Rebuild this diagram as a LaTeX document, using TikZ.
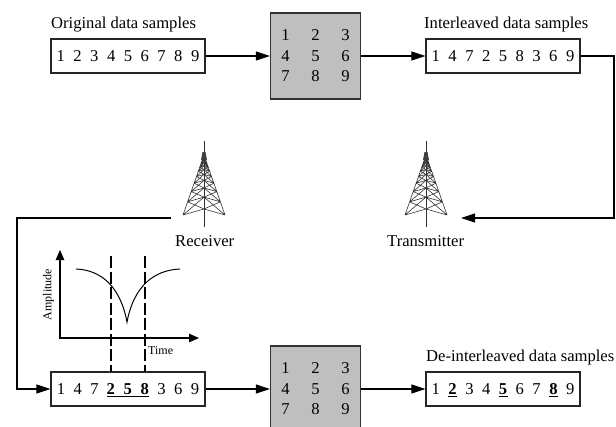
\documentclass[tikz,border=0pt]{standalone}
\usepackage{fontspec}
\setmainfont{Liberation Serif}
\usetikzlibrary{arrows.meta}
\newcommand{\dg}[1]{\makebox[16.8pt]{#1}}
\newcommand{\dgu}[1]{\underline{\smash{\makebox[9pt]{\bfseries #1}}}}
\newcommand{\mc}[1]{\makebox[30pt]{#1}}
\newcommand{\matrixtext}{\mc{1}\mc{2}\mc{3}\\\mc{4}\mc{5}\mc{6}\\\mc{7}\mc{8}\mc{9}}
\tikzset{
  lab/.style={inner sep=0pt,anchor=base west,font=\fontsize{16.6}{20}\selectfont},
  databox/.style={draw=black!85,line width=1.2pt,fill=white,minimum width=154pt,minimum height=34pt,inner sep=0pt,text height=11.2pt,text depth=0pt,font=\fontsize{16.6}{20}\selectfont},
  graybox/.style={draw=black!80,line width=1.2pt,fill=black!25,minimum width=85pt,minimum height=86pt,inner sep=0pt,align=center,font=\fontsize{16.6}{20.5}\selectfont},
  conn/.style={line width=1.1pt,-{Triangle[length=14pt,width=9pt]}},
  small/.style={inner sep=0pt,font=\fontsize{12}{14}\selectfont},
  tower/.pic={
    \draw[line width=.6pt,black!80] (0,141) -- (0,227);
    \fill[black!70] (-1.3,152) rectangle (1.3,160);
    \foreach \t/\u in {1/.78,.78/.61,.61/.47,.47/.36,.36/.27,.27/.2,.2/.15,.15/.11,.11/.08,.08/.05}{
      \pgfmathsetmacro{\xa}{21*\t}\pgfmathsetmacro{\ya}{155+60*\t}\pgfmathsetmacro{\yc}{155+54*\t}
      \pgfmathsetmacro{\xb}{21*\u}\pgfmathsetmacro{\yb}{155+60*\u}\pgfmathsetmacro{\yd}{155+54*\u}
      \draw[line width=.6pt,black!80]
        (-\xa,\ya) -- (0,\yc) -- (\xa,\ya)
        (-\xa,\ya) -- (-\xb,\yb) (\xa,\ya) -- (\xb,\yb)
        (-\xa,\ya) -- (0,\yd) (\xa,\ya) -- (0,\yd)
        (0,\yc) -- (-\xb,\yb) (0,\yc) -- (\xb,\yb);
    }
    \fill[black!75] (-3,160) -- (3,160) -- (1.5,152) -- (-1.5,152) -- cycle;
  }
}
\begin{document}
\begin{tikzpicture}[x=1pt,y=-1pt]
\useasboundingbox (0,0) rectangle (616,426);
\clip (0,0) rectangle (616,426);
% top row
\node[lab] (lo) at (51,28) {Original data samples};
\node[databox] (a) at (128,56) {\dg{1}\dg{2}\dg{3}\dg{4}\dg{5}\dg{6}\dg{7}\dg{8}\dg{9}};
\node[graybox] (g1) at (315.5,56) {\matrixtext};
\node[lab] (li) at (424,28) {Interleaved data samples};
\node[databox] (b) at (503,56) {\dg{1}\dg{4}\dg{7}\dg{2}\dg{5}\dg{8}\dg{3}\dg{6}\dg{9}};
\draw[conn] (a) -- (g1);
\draw[conn] (g1) -- (b);
% towers
\pic at (204,0) {tower};
\pic at (426,0) {tower};
\node[lab] (rx) at (175,246) {Receiver};
\node[lab] (tx) at (387,246) {Transmitter};
% links
\coordinate (txin) at (461,218);
\coordinate (rc) at (614,56);
\draw[conn] (b) -- (rc) |- (txin);
\coordinate (rxout) at (171,218);
\coordinate (lc) at (17,218);
% bottom row
\node[databox] (m) at (128,389) {\dg{1}\dg{4}\dg{7}\hspace{3.8pt}\underline{\smash{\hbox to 42.5pt{\hspace{-.5pt}\makebox[9pt]{\bfseries 2}\hfill\makebox[9pt]{\bfseries 5}\hfill\makebox[9pt]{\bfseries 8}}}}\hspace{3.8pt}\dg{3}\dg{6}\dg{9}};
\node[graybox] (g2) at (315.5,389) {\matrixtext};
\node[lab] (ld) at (426,361) {De-interleaved data samples};
\node[databox] (c) at (503,389) {\dg{1}\makebox[16.8pt]{\dgu{2}}\dg{3}\dg{4}\makebox[16.8pt]{\dgu{5}}\dg{6}\dg{7}\makebox[16.8pt]{\dgu{8}}\dg{9}};
\draw[conn] (rxout) -- (lc) |- (m);
\draw[conn] (m) -- (g2);
\draw[conn] (g2) -- (c);
% chart
\coordinate (org) at (60,338);
\coordinate (ytop) at (60,250);
\coordinate (xend) at (199,338);
\draw[line width=1.2pt,{Triangle[length=10pt,width=8.5pt]}-{Triangle[length=10pt,width=8.5pt]}] (ytop) -- (org) -- (xend);
\node[small,rotate=90] (amp) at (48.5,294.5) {Amplitude};
\node[small,anchor=base west] (tm) at (148,354) {Time};
\draw[line width=1pt] (76,269) .. controls (100,270) and (120,285) .. (127,322) .. controls (134,285) and (155,270) .. (180,269);
\coordinate (d1) at (111,256);
\coordinate (d2) at (145,256);
\coordinate (e1) at (111,372);
\coordinate (e2) at (145,372);
\draw[line width=1.1pt,dash pattern=on 12pt off 3.5pt] (d1) -- (e1);
\draw[line width=1.1pt,dash pattern=on 12pt off 3.5pt] (d2) -- (e2);
\end{tikzpicture}
\end{document}
